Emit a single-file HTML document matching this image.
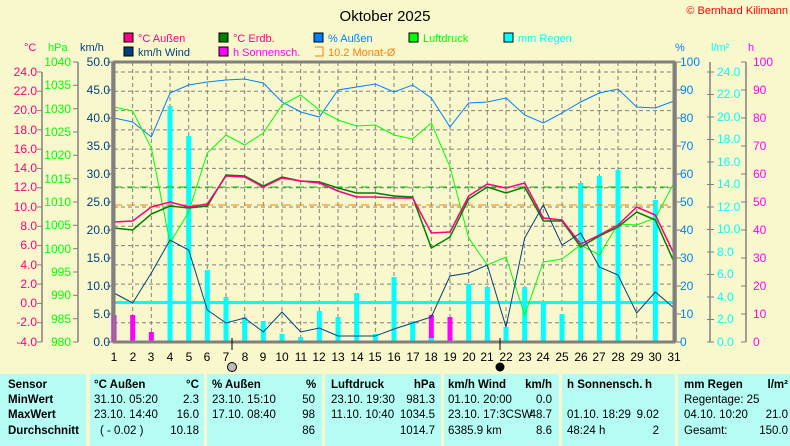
<!DOCTYPE html>
<html><head><meta charset="utf-8"><style>
body{margin:0;width:790px;height:446px;background:#f8f8cc;overflow:hidden;font-family:"Liberation Sans",sans-serif;position:relative}
svg{position:absolute;left:0;top:0}
.t{position:absolute;font-size:11.5px;color:#000;white-space:nowrap}
.b{font-weight:bold}
.r{text-align:right}
.cell{position:absolute;top:374px;height:72px;background:#b4fcf4}
</style></head><body>
<svg width="790" height="446" xmlns="http://www.w3.org/2000/svg" font-family="Liberation Sans, sans-serif" font-size="12">
<text x="385" y="21" font-size="15" text-anchor="middle" fill="#000">Oktober 2025</text>
<text x="788" y="14" font-size="11" text-anchor="end" fill="#ff0000">© Bernhard Kilimann</text>
<g font-size="11">
<rect x="124" y="33" width="9" height="9" fill="#ff0080" stroke="#000"/><text x="138" y="42" fill="#ff0080">°C  Außen</text>
<rect x="219" y="33" width="9" height="9" fill="#008000" stroke="#000"/><text x="233" y="42" fill="#ff0080">°C Erdb.</text>
<rect x="314" y="33" width="9" height="9" fill="#0080ff" stroke="#000"/><text x="328" y="42" fill="#0080ff">% Außen</text>
<rect x="409" y="33" width="9" height="9" fill="#00ff00" stroke="#000"/><text x="423" y="42" fill="#00ff00">Luftdruck</text>
<rect x="504" y="33" width="9" height="9" fill="#00ffff" stroke="#000"/><text x="518" y="42" fill="#00ffff">mm Regen</text>
<rect x="124" y="47" width="9" height="9" fill="#004080" stroke="#000"/><text x="138" y="56" fill="#004080">km/h Wind</text>
<rect x="219" y="47" width="9" height="9" fill="#ff00ff" stroke="#000"/><text x="233" y="56" fill="#ff00ff">h Sonnensch.</text>
<path d="M315 47h8v9h-8" fill="none" stroke="#ff8000"/><text x="328" y="56" fill="#ff8000">10.2 Monat-Ø</text>
</g>
<text x="24" y="51" fill="#ff0080" font-size="11">°C</text>
<text x="48" y="51" fill="#00ff00" font-size="11">hPa</text>
<text x="80" y="51" fill="#004080" font-size="11">km/h</text>
<text x="675" y="51" fill="#0080ff" font-size="11">%</text>
<text x="711" y="51" fill="#00ffff" font-size="11">l/m²</text>
<text x="748" y="51" fill="#ff00ff" font-size="11">h</text>
<g id="grid" stroke="#808080" stroke-dasharray="4,3" stroke-width="1"></g>
<g id="axes" stroke="#808080" fill="none"></g>
<g id="series"></g>
<rect x="114" y="62" width="560" height="280" fill="none" stroke="#808080" stroke-width="3"/>
<g fill="#ff0080" text-anchor="end">
<text x="37" y="76">24.0</text><text x="37" y="95">22.0</text><text x="37" y="114">20.0</text><text x="37" y="134">18.0</text><text x="37" y="153">16.0</text><text x="37" y="172">14.0</text><text x="37" y="191">12.0</text><text x="37" y="211">10.0</text><text x="37" y="230">8.0</text><text x="37" y="249">6.0</text><text x="37" y="269">4.0</text><text x="37" y="288">2.0</text><text x="37" y="307">0.0</text><text x="37" y="326">-2.0</text><text x="37" y="346">-4.0</text>
</g>
<g fill="#00ff00" text-anchor="end">
<text x="71" y="66">1040</text><text x="71" y="89">1035</text><text x="71" y="113">1030</text><text x="71" y="136">1025</text><text x="71" y="159">1020</text><text x="71" y="183">1015</text><text x="71" y="206">1010</text><text x="71" y="229">1005</text><text x="71" y="253">1000</text><text x="71" y="276">995</text><text x="71" y="299">990</text><text x="71" y="323">985</text><text x="71" y="346">980</text>
</g>
<g fill="#004080" text-anchor="end">
<text x="110" y="66">50.0</text><text x="110" y="94">45.0</text><text x="110" y="122">40.0</text><text x="110" y="150">35.0</text><text x="110" y="178">30.0</text><text x="110" y="206">25.0</text><text x="110" y="234">20.0</text><text x="110" y="262">15.0</text><text x="110" y="290">10.0</text><text x="110" y="318">5.0</text><text x="110" y="346">0.0</text>
</g>
<g fill="#0080ff">
<text x="680" y="66">100</text><text x="680" y="94">90</text><text x="680" y="122">80</text><text x="680" y="150">70</text><text x="680" y="178">60</text><text x="680" y="206">50</text><text x="680" y="234">40</text><text x="680" y="262">30</text><text x="680" y="290">20</text><text x="680" y="318">10</text><text x="680" y="346">0</text>
</g>
<g fill="#00ffff">
<text x="717" y="76">24.0</text><text x="717" y="98">22.0</text><text x="717" y="121">20.0</text><text x="717" y="143">18.0</text><text x="717" y="166">16.0</text><text x="717" y="188">14.0</text><text x="717" y="211">12.0</text><text x="717" y="233">10.0</text><text x="717" y="256">8.0</text><text x="717" y="278">6.0</text><text x="717" y="301">4.0</text><text x="717" y="323">2.0</text><text x="717" y="346">0.0</text>
</g>
<g fill="#ff00ff">
<text x="753" y="66">100</text><text x="753" y="94">90</text><text x="753" y="122">80</text><text x="753" y="150">70</text><text x="753" y="178">60</text><text x="753" y="206">50</text><text x="753" y="234">40</text><text x="753" y="262">30</text><text x="753" y="290">20</text><text x="753" y="318">10</text><text x="753" y="346">0</text>
</g>
<g fill="#000" text-anchor="middle">
<text x="114" y="361">1</text><text x="133" y="361">2</text><text x="151" y="361">3</text><text x="170" y="361">4</text><text x="189" y="361">5</text><text x="207" y="361">6</text><text x="226" y="361">7</text><text x="245" y="361">8</text><text x="263" y="361">9</text><text x="282" y="361">10</text><text x="301" y="361">11</text><text x="319" y="361">12</text><text x="338" y="361">13</text><text x="357" y="361">14</text><text x="375" y="361">15</text><text x="394" y="361">16</text><text x="413" y="361">17</text><text x="431" y="361">18</text><text x="450" y="361">19</text><text x="469" y="361">20</text><text x="487" y="361">21</text><text x="506" y="361">22</text><text x="525" y="361">23</text><text x="543" y="361">24</text><text x="562" y="361">25</text><text x="581" y="361">26</text><text x="599" y="361">27</text><text x="618" y="361">28</text><text x="637" y="361">29</text><text x="655" y="361">30</text><text x="674" y="361">31</text>
</g>
<line x1="232" y1="338" x2="232" y2="350" stroke="#000"/>
<line x1="500" y1="338" x2="500" y2="350" stroke="#000"/>
<circle cx="232" cy="367" r="4.5" fill="#bbb" stroke="#000"/>
<circle cx="500" cy="367" r="4.5" fill="#000"/>
</svg>

<div class="cell" style="left:0;width:86px"></div>
<div class="cell" style="left:90px;width:114px"></div>
<div class="cell" style="left:207px;width:115px"></div>
<div class="cell" style="left:325px;width:116px"></div>
<div class="cell" style="left:444px;width:115px"></div>
<div class="cell" style="left:562px;width:113px"></div>
<div class="cell" style="left:678px;width:112px"></div>

<div class="t b" style="left:8px;top:379px">Sensor</div>
<div class="t b" style="left:8px;top:394px">MinWert</div>
<div class="t b" style="left:8px;top:409px">MaxWert</div>
<div class="t b" style="left:8px;top:425px">Durchschnitt</div>

<div class="t b" style="left:94px;top:379px">°C  Außen</div><div class="t b" style="left:186px;top:379px">°C</div>
<div class="t" style="left:94px;top:394px">31.10.  05:20</div><div class="t r" style="right:591px;top:394px">2.3</div>
<div class="t" style="left:94px;top:409px">23.10.  14:40</div><div class="t r" style="right:591px;top:409px">16.0</div>
<div class="t" style="left:100px;top:425px">( - 0.02 )</div><div class="t r" style="right:591px;top:425px">10.18</div>

<div class="t b" style="left:212px;top:379px">% Außen</div><div class="t b" style="left:306px;top:379px">%</div>
<div class="t" style="left:212px;top:394px">23.10.  15:10</div><div class="t r" style="right:475px;top:394px">50</div>
<div class="t" style="left:212px;top:409px">17.10.  08:40</div><div class="t r" style="right:475px;top:409px">98</div>
<div class="t r" style="right:475px;top:425px">86</div>

<div class="t b" style="left:331px;top:379px">Luftdruck</div><div class="t b r" style="right:355px;top:379px">hPa</div>
<div class="t" style="left:331px;top:394px">23.10.  19:30</div><div class="t r" style="right:355px;top:394px">981.3</div>
<div class="t" style="left:331px;top:409px">11.10.  10:40</div><div class="t r" style="right:355px;top:409px">1034.5</div>
<div class="t r" style="right:355px;top:425px">1014.7</div>

<div class="t b" style="left:448px;top:379px">km/h Wind</div><div class="t b r" style="right:238px;top:379px">km/h</div>
<div class="t" style="left:448px;top:394px">01.10.  20:00</div><div class="t r" style="right:238px;top:394px">0.0</div>
<div class="t" style="left:448px;top:409px">23.10.  17:3CSW</div><div class="t r" style="right:238px;top:409px">48.7</div>
<div class="t" style="left:448px;top:425px">6385.9 km</div><div class="t r" style="right:238px;top:425px">8.6</div>

<div class="t b" style="left:567px;top:379px">h Sonnensch.</div><div class="t b r" style="right:138px;top:379px">h</div>
<div class="t" style="left:567px;top:409px">01.10.  18:29</div><div class="t r" style="right:131px;top:409px">9.02</div>
<div class="t" style="left:567px;top:425px">48:24 h</div><div class="t r" style="right:131px;top:425px">2</div>

<div class="t b" style="left:684px;top:379px">mm Regen</div><div class="t b r" style="right:2px;top:379px">l/m²</div>
<div class="t" style="left:684px;top:394px">Regentage: 25</div>
<div class="t" style="left:684px;top:409px">04.10.  10:20</div><div class="t r" style="right:2px;top:409px">21.0</div>
<div class="t" style="left:684px;top:425px">Gesamt:</div><div class="t r" style="right:2px;top:425px">150.0</div>

<script>
var NS="http://www.w3.org/2000/svg";
function el(p,t,a){var e=document.createElementNS(NS,t);for(var k in a)e.setAttribute(k,a[k]);document.getElementById(p).appendChild(e);return e;}
function X(d){return 114+(d-1)*560/30;}
for(var d=2;d<=30;d++)el("grid","line",{x1:X(d),y1:62,x2:X(d),y2:342});
for(var i=0;i<14;i++){var y=72+i*270/14;el("grid","line",{x1:114,y1:y,x2:674,y2:y});}
function axis(x,y0,y1,n,side){el("axes","line",{x1:x,y1:y0,x2:x,y2:y1,"stroke-width":1.5});for(var i=0;i<=n;i++){var y=y0+(y1-y0)*i/n;el("axes","line",{x1:side<0?x-5:x,y1:y,x2:side<0?x:x+5,y2:y});}}
axis(42,72,342,14,-1);axis(78,62,342,12,-1);axis(112,62,342,10,-1);
axis(676,62,342,10,1);el("axes","line",{x1:710,y1:62,x2:710,y2:342,"stroke-width":1.5});
for(var i=0;i<=12;i++){var y=72+i*22.5;el("axes","line",{x1:707,y1:y,x2:714,y2:y});}
axis(746,62,342,10,-1);
var rain={4:106,5:136,6:270,7:297,8:317,9:321,10:334,11:337,12:311,13:317,14:293,15:334,16:277,17:321,18:338,20:284,21:287,22:327,23:287,24:303,25:314,26:183,27:176,28:170,30:200};
var sun={1:315,2:315,3:332,4:340,10:339,18:315,19:317,21:338,22:338,23:338};
for(var k in sun)el("series","rect",{x:X(+k)-2.5,y:sun[k],width:5,height:342-sun[k],fill:"#ff00ff"});
for(var k in rain)el("series","rect",{x:X(+k)-2.5,y:rain[k],width:5,height:342-rain[k],fill:"#00ffff"});
el("series","line",{x1:114,y1:302.5,x2:674,y2:302.5,stroke:"#00ffff","stroke-width":3});
el("series","line",{x1:114,y1:187,x2:674,y2:187,stroke:"#00c000","stroke-dasharray":"8,5"});
el("series","line",{x1:114,y1:205,x2:674,y2:205,stroke:"#ff8000","stroke-dasharray":"8,5"});
function line(v,c,w){var p=v.map(function(y,i){return X(i+1)+","+y}).join(" ");el("series","polyline",{points:p,fill:"none",stroke:c,"stroke-width":w||1});}
line([118,122,137,93,85,82,80,79,83,102,112,117,90,87,84,92,85,98,127,103,102,98,115,123,113,102,93,89,107,108,101],"#0080ff");
line([107,111,148,243,212,153,135,145,133,105,95,110,120,126,125,135,139,123,167,238,265,257,315,262,259,245,255,224,225,218,183],"#00ff00");
line([228,230,214,206,208,206,175,176,186,177,181,182,188,193,193,196,197,248,237,199,187,193,187,221,221,247,236,227,212,220,262],"#008000",1.5);
line([222,221,207,202,207,204,176,177,187,178,181,183,191,197,197,198,198,233,232,196,184,188,183,218,220,244,235,225,207,215,254],"#ff0080",1.5);
line([293,303,273,240,250,310,323,318,332,312,332,328,336,336,336,329,323,317,276,273,265,327,238,205,245,233,267,275,313,292,308],"#004080");
</script>
</body></html>
